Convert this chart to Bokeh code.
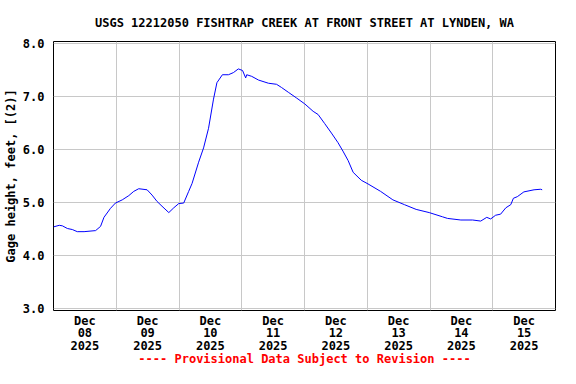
from bokeh.plotting import figure
from bokeh.models import FixedTicker, PrintfTickFormatter, Range1d
from bokeh.embed import file_html
from bokeh.resources import INLINE

# ---- data (hours since 2025-12-08 00:00, gage height in feet) ----
hours = [0.0, 2.2, 3.4, 5.3, 7.2, 9.1, 11.7, 16.1, 18.0, 19.3, 21.8, 23.7,
         26.3, 28.8, 30.7, 32.6, 35.8, 37.7, 39.6, 41.5, 44.1, 46.0, 47.9,
         49.8, 51.7, 53.0, 55.5, 57.4, 59.3, 61.2, 62.5, 64.6, 66.9, 68.8,
         70.7, 72.3, 73.5, 73.9, 75.8, 78.4, 82.2, 85.3, 87.2, 89.8, 93.0,
         96.1, 99.3, 101.2, 103.7, 106.3, 108.8, 110.7, 112.7, 114.6, 117.7,
         120.3, 125.1, 129.8, 134.2, 138.7, 143.7, 148.8, 150.7, 155.8,
         160.3, 163.4, 165.7, 167.2, 169.1, 171.0, 173.0, 174.9, 175.9,
         177.4, 179.9, 183.8, 186.3, 186.9]
gage_ft = [4.54, 4.57, 4.56, 4.51, 4.49, 4.45, 4.45, 4.47, 4.55, 4.72, 4.89,
           4.99, 5.05, 5.13, 5.21, 5.26, 5.24, 5.14, 5.02, 4.93, 4.81, 4.90,
           4.98, 4.99, 5.21, 5.36, 5.76, 6.03, 6.40, 6.95, 7.26, 7.41, 7.41,
           7.45, 7.52, 7.49, 7.35, 7.41, 7.38, 7.31, 7.25, 7.23, 7.17, 7.08,
           6.97, 6.86, 6.72, 6.66, 6.49, 6.31, 6.13, 5.97, 5.79, 5.57, 5.42,
           5.35, 5.21, 5.05, 4.96, 4.87, 4.81, 4.73, 4.70, 4.67, 4.67, 4.65,
           4.72, 4.69, 4.76, 4.78, 4.90, 4.96, 5.08, 5.11, 5.20, 5.24, 5.25,
           5.24]

day_ticks = [12, 36, 60, 84, 108, 132, 156, 180]
day_labels = ["Dec\n08\n2025", "Dec\n09\n2025", "Dec\n10\n2025", "Dec\n11\n2025",
              "Dec\n12\n2025", "Dec\n13\n2025", "Dec\n14\n2025", "Dec\n15\n2025"]
midnights = [24, 48, 72, 96, 120, 144, 168]
y_ticks = [3, 4, 5, 6, 7, 8]

FONT = "DejaVu Sans Mono"

p = figure(width=560, height=368, output_backend="svg", toolbar_location=None,
           x_range=Range1d(0, 192), y_range=Range1d(2.963, 8.037),
           min_border_left=51, min_border_right=5, min_border_top=41,
           min_border_bottom=0)

p.line(hours, gage_ft, line_color="#0000ff", line_width=1)

p.title.text = "USGS 12212050 FISHTRAP CREEK AT FRONT STREET AT LYNDEN, WA"
p.title.align = "center"
p.title.text_font = FONT
p.title.text_font_size = "12px"
p.title.text_font_style = "bold"
p.title.text_color = "black"
p.title.standoff = 24

p.outline_line_color = "black"
p.outline_line_width = 1
p.outline_line_alpha = 1.0

p.xgrid.ticker = FixedTicker(ticks=midnights)
p.ygrid.ticker = FixedTicker(ticks=y_ticks)
for g in (p.xgrid, p.ygrid):
    g.grid_line_color = "#c8c8c8"
    g.grid_line_width = 1

xa = p.xaxis[0]
xa.ticker = FixedTicker(ticks=day_ticks)
xa.major_label_overrides = {t: l for t, l in zip(day_ticks, day_labels)}
xa.axis_label = "---- Provisional Data Subject to Revision ----"
ya = p.yaxis[0]
ya.ticker = FixedTicker(ticks=y_ticks)
ya.formatter = PrintfTickFormatter(format="%.1f")
ya.axis_label = "Gage height, feet, [(2)]"

for ax in (xa, ya):
    ax.axis_line_color = None
    ax.major_tick_line_color = None
    ax.minor_tick_line_color = None
    ax.major_tick_out = 0
    ax.major_tick_in = 0
    ax.major_label_text_font = FONT
    ax.major_label_text_font_size = "12px"
    ax.major_label_text_font_style = "bold"
    ax.major_label_text_color = "black"
    ax.axis_label_text_font = FONT
    ax.axis_label_text_font_size = "12px"
    ax.axis_label_text_font_style = "bold"
    ax.axis_label_text_color = "black"

xa.axis_label_text_color = "#ff0000"
xa.major_label_standoff = 3
xa.major_label_text_line_height = 0.9
xa.axis_label_standoff = -4
ya.major_label_standoff = 9
ya.axis_label_standoff = 2

open("out.html", "w").write(file_html(p, INLINE))
